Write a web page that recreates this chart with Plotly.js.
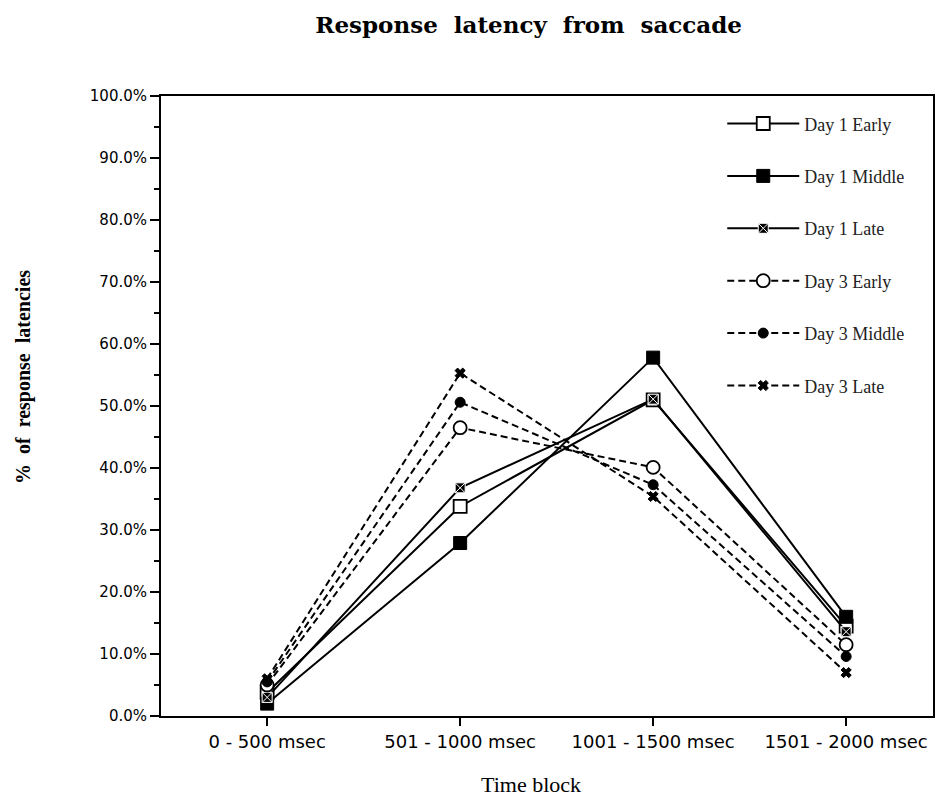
<!DOCTYPE html>
<html>
<head>
<meta charset="utf-8">
<script src="https://cdn.plot.ly/plotly-3.0.1.min.js"></script>
<style>
html,body{margin:0;padding:0;background:#fff;}
#chart{width:939px;height:799px;}
</style>
</head>
<body>
<div id="chart"></div>
<script>
// ---- data (percent of response latencies) ----
var categories = ["0 - 500 msec", "501 - 1000 msec", "1001 - 1500 msec", "1501 - 2000 msec"];
var seriesNames = ["Day 1 Early", "Day 1 Middle", "Day 1 Late", "Day 3 Early", "Day 3 Middle", "Day 3 Late"];
var day1Early  = [3.8, 33.8, 51.0, 14.5];
var day1Middle = [2.0, 27.9, 57.8, 16.0];
var day1Late   = [3.0, 36.8, 51.1, 13.6];
var day3Early  = [5.0, 46.5, 40.1, 11.5];
var day3Middle = [5.5, 50.6, 37.3, 9.6];
var day3Late   = [6.0, 55.3, 35.4, 7.0];
var yTickValues = [0, 10, 20, 30, 40, 50, 60, 70, 80, 90, 100];
var yTickLabels = yTickValues.map(function (v) { return v.toFixed(1) + "%"; });

// ---- styles ----
var seriesValues = [day1Early, day1Middle, day1Late, day3Early, day3Middle, day3Late];
var styles = [
  {dash: "solid", marker: {symbol: "square", size: 13, color: "#fff", line: {color: "#000", width: 1.8}}},
  {dash: "solid", marker: {symbol: "square", size: 13, color: "#000", line: {color: "#000", width: 1}}},
  {dash: "solid", marker: {symbol: "square-x", size: 10, color: "#000", line: {color: "#fff", width: 1}}},
  {dash: "7px,4px", marker: {symbol: "circle", size: 13, color: "#fff", line: {color: "#000", width: 1.8}}},
  {dash: "7px,4px", marker: {symbol: "circle", size: 10, color: "#000", line: {color: "#000", width: 1}}},
  {dash: "7px,4px", marker: {symbol: "x", size: 9, color: "#000", line: {color: "#000", width: 1}}}
];

var traces = seriesValues.map(function (vals, i) {
  return {
    type: "scatter",
    mode: "lines+markers",
    name: seriesNames[i],
    legendgroup: "g" + i,
    x: categories,
    y: vals,
    line: {color: "#000", width: 2, dash: styles[i].dash},
    marker: styles[i].marker,
    cliponaxis: false
  };
});

var layout = {
  width: 939,
  height: 799,
  paper_bgcolor: "#fff",
  plot_bgcolor: "#fff",
  margin: {l: 161, r: 6, t: 96, b: 83},
  title: {
    text: "Response\u00a0 latency\u00a0 from\u00a0 saccade",
    font: {family: "DejaVu Serif", size: 23, color: "#000", weight: 700},
    x: 0.563, xanchor: "center",
    y: 0.969, yanchor: "middle", yref: "container"
  },
  showlegend: true,
  legend: {
    x: 0.727, xanchor: "left",
    y: 0.985, yanchor: "top",
    bgcolor: "rgba(0,0,0,0)",
    borderwidth: 0,
    font: {family: "Liberation Serif", size: 18, color: "#222"},
    tracegroupgap: 26,
    itemwidth: 72,
    traceorder: "grouped"
  },
  xaxis: {
    type: "category",
    categoryorder: "array",
    categoryarray: categories,
    range: [-0.55, 3.45],
    showgrid: false,
    zeroline: false,
    showline: true,
    linecolor: "#000",
    linewidth: 2,
    mirror: true,
    ticks: "outside",
    ticklen: 8,
    tickwidth: 1.5,
    tickcolor: "#000",
    tickfont: {family: "DejaVu Sans", size: 18, color: "#000"},
    fixedrange: true
  },
  yaxis: {
    range: [0, 100],
    tickmode: "array",
    tickvals: yTickValues,
    ticktext: yTickLabels,
    showgrid: false,
    zeroline: false,
    showline: true,
    linecolor: "#000",
    linewidth: 2,
    mirror: true,
    ticks: "outside",
    ticklen: 9,
    tickwidth: 1.5,
    tickcolor: "#000",
    tickfont: {family: "DejaVu Sans", size: 15, color: "#000"},
    minor: {dtick: 5, ticks: "outside", ticklen: 5, tickwidth: 1.2, tickcolor: "#000", showgrid: false},
    fixedrange: true
  },
  annotations: [
    {
      text: "%\u00a0 of\u00a0 response\u00a0 latencies",
      xref: "paper", yref: "paper",
      x: (23 - 161) / 772, y: (716 - 377) / 620,
      xanchor: "center", yanchor: "middle",
      textangle: -90,
      showarrow: false,
      font: {family: "Liberation Serif", size: 20, color: "#000", weight: 700}
    },
    {
      text: "Time block",
      xref: "paper", yref: "paper",
      x: (531 - 161) / 772, y: (716 - 784) / 620,
      xanchor: "center", yanchor: "middle",
      showarrow: false,
      font: {family: "Liberation Serif", size: 22, color: "#000"}
    }
  ]
};

Plotly.newPlot("chart", traces, layout, {displayModeBar: false, staticPlot: true});
</script>
</body>
</html>
